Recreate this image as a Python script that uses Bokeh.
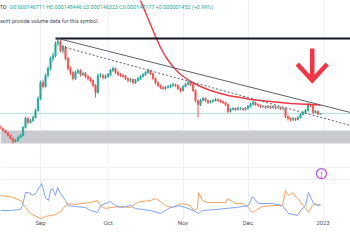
import numpy as np
from bokeh.plotting import figure
from bokeh.layouts import column
from bokeh.models import (Range1d, FixedTicker, Grid, BoxAnnotation, Span, Label,
                          ColumnDataSource)
from bokeh.core.properties import value
from bokeh.embed import file_html
from bokeh.resources import INLINE

# Daily bars, prices in units of 1e-6
opens = [122, 118, 114, 110, 104, 98, 92, 94, 100, 104,
         120, 138, 130, 134, 140, 154, 178, 210, 202, 224,
         238, 258, 264, 288, 292, 274, 280, 258, 238, 230,
         218, 230, 234, 226, 228, 222, 218, 214, 204, 190,
         224, 224, 220, 222, 226, 234, 238, 230, 226, 224,
         222, 218, 214, 216, 210, 214, 218, 222, 226, 230,
         234, 228, 218, 210, 204, 200, 198, 200, 202, 204,
         206, 204, 198, 194, 202, 206, 210, 206, 194, 174,
         166, 174, 178, 174, 170, 172, 174, 176, 174, 172,
         170, 166, 152, 156, 158, 156, 158, 158, 156, 158,
         162, 166, 170, 166, 164, 162, 162, 160, 162, 160,
         162, 160, 160, 158, 158, 142, 138, 136, 138, 136,
         140, 146, 150, 154, 166, 164, 150, 152, 146.711]
highs = [125, 120, 116, 112, 106, 100, 97, 102, 107, 123,
         142, 141, 137, 144, 158, 182, 214, 216, 228, 242,
         262, 270, 292, 298, 296, 286, 283, 261, 242, 233,
         234, 238, 237, 232, 231, 225, 221, 216, 207, 228,
         229, 227, 226, 229, 237, 242, 240, 233, 229, 227,
         225, 220, 219, 218, 217, 221, 225, 229, 233, 238,
         236, 230, 220, 212, 206, 203, 203, 205, 207, 209,
         208, 206, 200, 205, 209, 213, 212, 208, 196, 176,
         177, 181, 180, 176, 175, 177, 179, 178, 176, 174,
         172, 168, 159, 161, 160, 161, 161, 160, 161, 165,
         169, 174, 172, 168, 166, 165, 164, 165, 164, 165,
         164, 163, 162, 161, 160, 144, 140, 141, 140, 143,
         149, 153, 157, 170, 168, 166, 155, 154, 148.446]
lows = [116, 112, 108, 102, 96, 88, 90, 92, 98, 102,
        118, 127, 128, 131, 138, 152, 175, 198, 200, 220,
        234, 252, 260, 282, 270, 268, 254, 234, 225, 214,
        215, 227, 222, 223, 219, 214, 210, 200, 180, 188,
        220, 216, 217, 219, 223, 231, 227, 223, 221, 219,
        215, 210, 211, 206, 207, 212, 215, 220, 223, 227,
        225, 215, 206, 201, 197, 195, 195, 198, 199, 201,
        201, 195, 190, 192, 200, 204, 203, 191, 170, 140,
        163, 172, 171, 167, 168, 170, 172, 171, 169, 167,
        163, 149, 150, 154, 153, 154, 155, 153, 154, 156,
        160, 164, 163, 161, 159, 159, 157, 158, 157, 158,
        157, 157, 155, 154, 139, 134, 132, 133, 133, 134,
        138, 144, 148, 152, 160, 147, 148, 145, 146.323]
closes = [118, 114, 110, 104, 98, 92, 94, 100, 104, 120,
          138, 130, 134, 140, 154, 178, 210, 202, 224, 238,
          258, 264, 288, 292, 274, 280, 258, 238, 230, 218,
          230, 234, 226, 228, 222, 218, 214, 204, 190, 224,
          224, 220, 222, 226, 234, 238, 230, 226, 224, 222,
          218, 214, 216, 210, 214, 218, 222, 226, 230, 234,
          228, 218, 210, 204, 200, 198, 200, 202, 204, 206,
          204, 198, 194, 202, 206, 210, 206, 194, 174, 166,
          174, 178, 174, 170, 172, 174, 176, 174, 172, 170,
          166, 152, 156, 158, 156, 158, 158, 156, 158, 162,
          166, 170, 166, 164, 162, 162, 160, 162, 160, 162,
          160, 160, 158, 158, 142, 138, 136, 138, 136, 140,
          146, 150, 154, 166, 164, 150, 152, 146.725, 148.177]

# moving average (sampled), bar index / price
ma_bars = [54, 56, 58, 60, 62, 64, 66, 68, 70, 72, 76, 80, 84, 88, 92, 96,
           100, 104, 108, 112, 116, 120, 124, 128]
ma_vals = [398, 374, 350, 326, 302, 280, 262, 248, 236, 226, 212, 202, 194, 188,
           183, 180, 176, 174, 172, 170, 168, 167, 166, 165]

# drawn levels and trend lines
ath_bars, ath_vals = [22, 140], [298, 298]
upper_bars, upper_vals = [23, 140], [298, 150]
lower_bars, lower_vals = [24.5, 140], [282, 124]
zone_bottom, zone_top = 88, 114
arrow_shaft_bars, arrow_shaft_vals = [124.7, 124.7], [278, 218]
arrow_head_bars, arrow_head_vals = [118.7, 124.7, 130.7], [247, 214, 247]

# directional indicator pane
blue_bars = [0, 4, 8, 8.8, 10, 11.2, 12.8, 14, 16, 16.4, 18, 19.2, 20, 20.8, 22,
             22.8, 24, 26, 27.2, 30, 34, 36, 38.8, 40, 44, 46, 48, 52, 54, 60, 64,
             66, 68, 71.2, 74, 77.2, 79.2, 80.8, 86, 94, 99.2, 100.8, 103.2, 108.8,
             112.8, 115.2, 118.8, 120, 122, 123.2, 125.2, 126.8, 128]
blue_vals = [14.2, 14.2, 15.0, 18.3, 29.2, 29.2, 26.7, 28.3, 35.0, 36.7, 25.0, 22.5,
             30.8, 32.5, 26.7, 33.3, 28.3, 22.5, 18.3, 17.5, 16.7, 14.2, 12.5, 18.3,
             21.7, 18.3, 16.7, 18.3, 15.8, 14.2, 11.7, 14.2, 16.7, 18.3, 16.7, 14.2,
             11.7, 14.2, 15.0, 16.7, 18.3, 25.8, 20.0, 20.0, 18.3, 11.7, 10.0, 14.2,
             18.3, 29.2, 20.0, 18.3, 19.2]
orange_bars = [0, 4, 8, 10, 12, 16, 18, 20, 22, 24, 26, 27.2, 30, 32, 36, 38.8, 40,
               42, 44, 48, 52, 54, 56, 60, 62, 64, 66, 68.8, 72.8, 76, 77.2, 78.8,
               79.2, 80.8, 83.2, 90, 90.8, 94, 96.8, 99.2, 100.8, 102, 104.8, 108.8,
               112.8, 114, 115.2, 116.8, 118.8, 121.2, 123.2, 124.8, 126, 128]
orange_vals = [26.7, 25.8, 22.5, 16.7, 11.7, 7.5, 9.2, 10.0, 10.8, 13.3, 18.3, 20.0,
               19.2, 20.0, 20.8, 22.5, 18.3, 15.8, 16.7, 17.5, 16.7, 20.0, 21.7, 22.5,
               24.2, 21.7, 18.3, 16.7, 20.0, 18.3, 14.2, 15.8, 29.2, 22.5, 20.8, 20.8,
               24.2, 20.0, 20.0, 16.7, 12.5, 14.2, 17.5, 18.3, 18.3, 30.8, 26.7, 29.2,
               24.2, 18.3, 12.5, 18.3, 20.0, 18.3]
icon_bar, icon_val = [128.4], [45.0]

month_ticks = [16, 43, 73, 99, 129]
month_labels = ["Sep", "Oct", "Nov", "Dec", "2023"]

UP, DOWN = "#26a69a", "#ef5350"
GRID = "#eef0f5"
FONT = "Roboto"

xr = Range1d(0, 140)

src = ColumnDataSource(dict(
    bar=list(range(len(closes))),
    top=[max(o, c) for o, c in zip(opens, closes)],
    bottom=[min(o, c) for o, c in zip(opens, closes)],
    high=highs, low=lows,
    color=[UP if c >= o else DOWN for o, c in zip(opens, closes)],
))

p1 = figure(width=350, height=150, x_range=xr, y_range=Range1d(74, 374),
            output_backend="svg", toolbar_location=None,
            x_axis_location=None, y_axis_location=None,
            min_border_left=0, min_border_right=0, min_border_top=0, min_border_bottom=0)
p1.outline_line_color = None
p1.background_fill_color = "white"
p1.xgrid.grid_line_color = None
p1.ygrid.grid_line_color = None
p1.add_layout(Grid(dimension=0, ticker=FixedTicker(ticks=month_ticks), grid_line_color=GRID))

p1.add_layout(BoxAnnotation(bottom=zone_bottom, top=zone_top, fill_color="#c9cacf",
                            fill_alpha=1.0, line_color=None, level="underlay"))
p1.add_layout(Span(location=closes[-1], dimension="width", line_color=UP,
                   line_alpha=0.35, line_width=1, level="underlay"))

p1.segment("bar", "low", "bar", "high", color="color", line_width=1, source=src)
p1.vbar(x="bar", width=0.62, top="top", bottom="bottom", fill_color="color",
        line_color="color", line_width=0.5, source=src)

p1.line(ma_bars, ma_vals, line_color="#f23645", line_width=1.4)
p1.line(ath_bars, ath_vals, line_color="#131722", line_width=2)
p1.line(upper_bars, upper_vals, line_color="#5d606b", line_width=1)
p1.line(lower_bars, lower_vals, line_color="#5d606b", line_width=1, line_dash="2 2")

p1.line(arrow_shaft_bars, arrow_shaft_vals, line_color="#f23645", line_width=4.5)
p1.line(arrow_head_bars, arrow_head_vals, line_color="#f23645", line_width=4.5,
        line_join="miter")

o, h, l, c = opens[-1], highs[-1], lows[-1], closes[-1]
chg = c - closes[-2]
pct = chg / closes[-2] * 100
legend_text = (f"O{o*1e-6:.9f} H{h*1e-6:.9f} L{l*1e-6:.9f} C{c*1e-6:.9f} "
               f"{chg*1e-6:+.9f} ({pct:+.2f}%)")
p1.add_layout(Label(x=-1, y=144, x_units="screen", y_units="screen", text="TO",
                    text_font=FONT, text_font_size="5.4px", text_color="#131722",
                    text_baseline="middle"))
p1.add_layout(Label(x=9, y=144, x_units="screen", y_units="screen", text=legend_text,
                    text_font=FONT, text_font_size="5.4px", text_color=UP,
                    text_baseline="middle"))
p1.add_layout(Label(x=-1, y=130, x_units="screen", y_units="screen",
                    text="esn't provide volume data for this symbol.",
                    text_font=FONT, text_font_size="5.4px", text_color="#434651",
                    text_baseline="middle"))

p2 = figure(width=350, height=100, x_range=xr, y_range=Range1d(4.2, 64.2),
            output_backend="svg", toolbar_location=None,
            x_axis_location="below", y_axis_location=None,
            min_border_left=0, min_border_right=0, min_border_top=0, min_border_bottom=28)
p2.outline_line_color = None
p2.xgrid.grid_line_color = None
p2.ygrid.grid_line_color = None
p2.add_layout(Grid(dimension=0, ticker=FixedTicker(ticks=month_ticks), grid_line_color=GRID))
p2.add_layout(Grid(dimension=1, ticker=FixedTicker(ticks=[40, 50]), grid_line_color=GRID))

p2.line(orange_bars, orange_vals, line_color="#f6a05e", line_width=1)
p2.line(blue_bars, blue_vals, line_color="#7fa1f7", line_width=1)
p2.scatter(icon_bar, icon_val, marker="circle", size=10, fill_color="white",
           line_color="#b84fd6", line_width=1.2)
p2.text(icon_bar, icon_val, text=["ƒ"], text_font=value("DejaVu Sans"),
        text_font_size="6px", text_color="#b84fd6", text_align="center",
        text_baseline="middle")

ax = p2.xaxis[0]
ax.ticker = FixedTicker(ticks=month_ticks)
ax.major_label_overrides = {t: s for t, s in zip(month_ticks, month_labels)}
ax.axis_line_color = None
ax.major_tick_line_color = None
ax.minor_tick_line_color = None
ax.major_tick_out = 0
ax.major_tick_in = 0
ax.minor_tick_out = 0
ax.major_label_standoff = -4
ax.major_label_text_font = FONT
ax.major_label_text_font_size = "6px"
ax.major_label_text_color = "#50535e"

layout = column(p1, p2)
open("out.html", "w").write(file_html(layout, INLINE))
